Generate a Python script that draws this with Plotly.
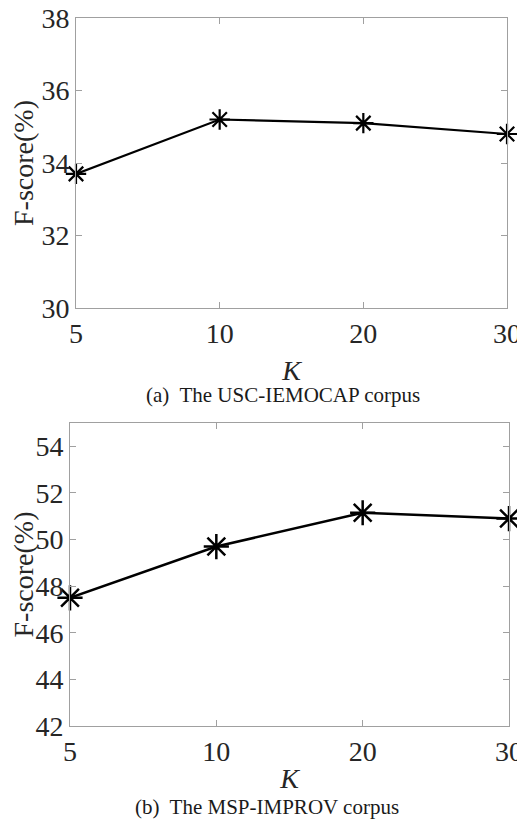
import plotly.graph_objects as go

k_labels = ["5", "10", "20", "30"]
iemocap_f = [33.7, 35.2, 35.1, 34.8]
improv_f = [47.5, 49.7, 51.15, 50.9]

top_ticks = [30, 32, 34, 36, 38]
bottom_ticks = [42, 44, 46, 48, 50, 52, 54]

# page has an 8px body margin; figure is sized to fit the window
OFF = 8
W, H = 525 - OFF, 819 - OFF
fig = go.Figure()

def px(v):  # horizontal page pixel -> paper fraction
    return (v - OFF) / W

def py(v):  # vertical page pixel -> paper fraction
    return 1 - (v - OFF) / H

fig.add_trace(go.Scatter(x=k_labels, y=iemocap_f, mode="lines+markers",
                         line=dict(color="black", width=2.2),
                         marker=dict(symbol="asterisk-open", size=17, color="black",
                                     line=dict(color="black", width=2.2)),
                         xaxis="x", yaxis="y", cliponaxis=False, showlegend=False))
fig.add_trace(go.Scatter(x=k_labels, y=improv_f, mode="lines+markers",
                         line=dict(color="black", width=2.5),
                         marker=dict(symbol="asterisk-open", size=21, color="black",
                                     line=dict(color="black", width=2.5)),
                         xaxis="x2", yaxis="y2", cliponaxis=False, showlegend=False))

tickfont = dict(family="Liberation Serif", size=28, color="#262626")
titlefont = dict(family="Liberation Serif", size=28, color="#262626")

def xax(domain, anchor, standoff):
    return dict(domain=domain, anchor=anchor, type="category", range=[0, 3],
                automargin=False, ticklabeloverflow="allow",
                showline=True, linecolor="#a0a0a0", linewidth=1, mirror="ticks",
                ticks="inside", ticklen=6, tickcolor="#a0a0a0",
                showgrid=False, zeroline=False, tickfont=tickfont,
                title=dict(text="<i>K</i>", font=titlefont, standoff=standoff))

def yax(domain, anchor, rng, ticks):
    return dict(domain=domain, anchor=anchor, range=rng, tickvals=ticks,
                automargin=False, ticklabeloverflow="allow",
                showline=True, linecolor="#a0a0a0", linewidth=1, mirror="ticks",
                ticks="inside", ticklen=6, tickcolor="#a0a0a0",
                showgrid=False, zeroline=False, tickfont=tickfont,
                title=dict(text="F-score(%)", font=titlefont, standoff=2))

fig.update_layout(
    width=W, height=H,
    margin=dict(l=0, r=0, t=0, b=0),
    paper_bgcolor="white", plot_bgcolor="white",
    xaxis=xax([px(76), px(507)], "y", 12),
    yaxis=yax([py(308), py(18)], "x", [30, 38], top_ticks),
    xaxis2=xax([px(70), px(509)], "y2", 2),
    yaxis2=yax([py(726), py(423)], "x2", [42, 55], bottom_ticks),
    annotations=[
        dict(text="(a)  The USC-IEMOCAP corpus", xref="paper", yref="paper",
             x=px(283), y=py(395), yanchor="middle", showarrow=False,
             font=dict(family="Liberation Serif", size=21, color="#1a1a1a")),
        dict(text="(b)  The MSP-IMPROV corpus", xref="paper", yref="paper",
             x=px(267), y=py(807), yanchor="middle", showarrow=False,
             font=dict(family="Liberation Serif", size=21, color="#1a1a1a")),
    ],
)

fig.write_html("out.html")
